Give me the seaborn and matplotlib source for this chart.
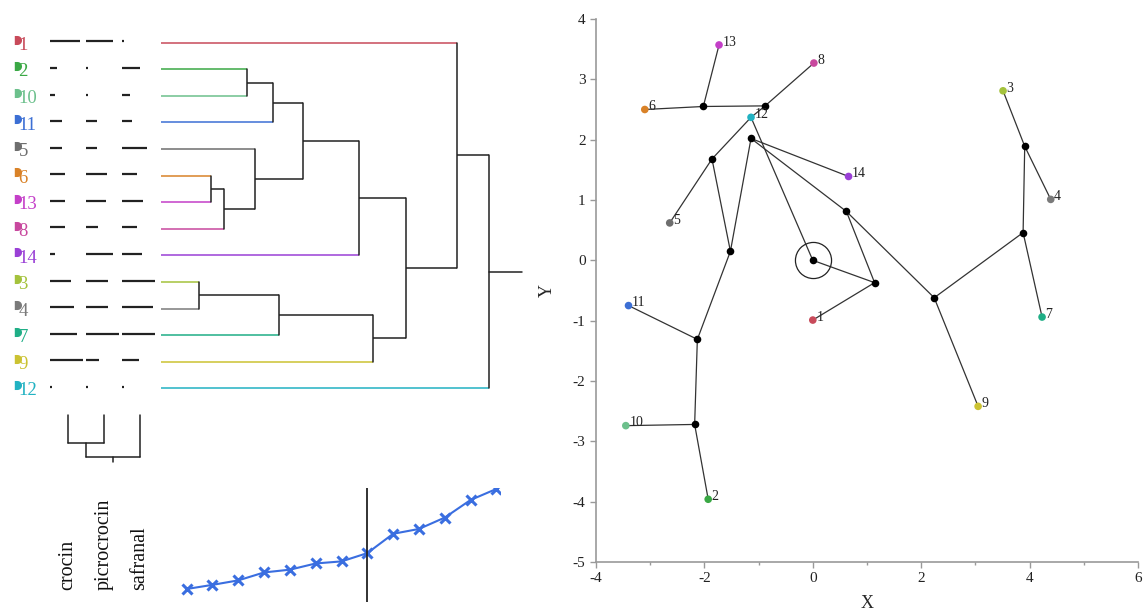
import numpy as np
import pandas as pd
import matplotlib
matplotlib.use("Agg")
import matplotlib.pyplot as plt
import seaborn as sns
from matplotlib.path import Path
from matplotlib.transforms import blended_transform_factory

# samples in dendrogram order, top to bottom
leaf_order = [1, 2, 10, 11, 5, 6, 13, 8, 14, 3, 4, 7, 9, 12]
sample_colors = {
    1: "#c84a5a", 2: "#3aa845", 3: "#a4c23c", 4: "#7a7a7a", 5: "#6e6e6e",
    6: "#d98228", 7: "#1fae86", 8: "#c8489e", 9: "#cbc232", 10: "#6cc08c",
    11: "#3c6fd4", 12: "#22b2c2", 13: "#c43fc8", 14: "#9a40d6",
}

# relative compound levels, same row order as leaf_order (1 = highest)
compounds = ["crocin", "picrocrocin", "safranal"]
crocin = [0.91, 0.21, 0.15, 0.36, 0.36, 0.45, 0.45, 0.45, 0.15, 0.64, 0.73, 0.82, 1.00, 0.05]
picrocrocin = [0.82, 0.06, 0.06, 0.33, 0.33, 0.64, 0.61, 0.36, 0.82, 0.67, 0.67, 1.00, 0.39, 0.05]
safranal = [0.05, 0.55, 0.24, 0.30, 0.76, 0.45, 0.64, 0.45, 0.61, 1.00, 0.94, 1.00, 0.52, 0.05]

# sample clustering: merge k joins left[k] and right[k] into "m{k}"
merge_left = ["3", "6", "m1", "2", "5", "m3", "m0", "m5", "m7", "m6", "m8", "1", "m11"]
merge_right = ["4", "13", "8", "10", "m2", "11", "7", "m4", "14", "9", "m9", "m10", "12"]
merge_height = [0.38, 0.50, 0.63, 0.86, 0.94, 1.12, 1.18, 1.42, 1.98, 2.12, 2.45, 2.96, 3.28]
cut_step = 7

# compound clustering
compound_left = ["crocin", "m0"]
compound_right = ["picrocrocin", "safranal"]
compound_height = [0.66, 1.00]

# 2D map: samples and tree nodes
sample_ids = list(range(1, 15))
sample_x = [0.00, -1.93, 3.51, 4.39, -2.64, -3.10, 4.23, 0.02, 3.05, -3.45, -3.40, -1.14, -1.73, 0.66]
sample_y = [-0.99, -3.96, 2.81, 1.01, 0.62, 2.50, -0.94, 3.27, -2.42, -2.74, -0.75, 2.37, 3.57, 1.39]
node_names = ["A", "B", "C", "D", "E", "F", "O", "G", "H", "I", "J", "K", "L"]
node_x = [-2.02, -0.88, -1.14, -1.86, 0.62, -1.52, 0.00, 1.14, -2.13, -2.18, 3.91, 3.88, 2.24]
node_y = [2.55, 2.56, 2.02, 1.68, 0.81, 0.15, 0.00, -0.37, -1.31, -2.72, 1.89, 0.46, -0.62]
edges = [
    ("6", "A"), ("A", "13"), ("A", "B"), ("B", "8"), ("B", "12"), ("12", "D"),
    ("12", "O"), ("D", "5"), ("D", "F"), ("C", "F"), ("C", "14"), ("C", "E"),
    ("E", "G"), ("E", "L"), ("O", "G"), ("G", "1"), ("F", "H"), ("H", "11"),
    ("H", "I"), ("I", "10"), ("I", "2"), ("L", "K"), ("L", "9"), ("K", "J"),
    ("J", "3"), ("J", "4"), ("K", "7"),
]

sns.set_style("white")
plt.rcParams["font.family"] = ["Liberation Serif", "DejaVu Serif"]
plt.rcParams["axes.unicode_minus"] = False

W, H = 1145, 610
fig = plt.figure(figsize=(W / 100, H / 100), dpi=100)


def px_axes(x0, y0, x1, y1):
    """axes from pixel box (top-left origin)"""
    return fig.add_axes([x0 / W, (H - y1) / H, (x1 - x0) / W, (y1 - y0) / H])


def tree_layout(leaves, left, right, heights, pos):
    coord = {str(k): pos[i] for i, k in enumerate(leaves)}
    level = {str(k): 0.0 for k in leaves}
    segs = []
    for k, (a, b, h) in enumerate(zip(left, right, heights)):
        for c in (a, b):
            segs.append(("h", c, coord[c], level[c], h))
        segs.append(("v", None, h, coord[a], coord[b]))
        coord[f"m{k}"] = (coord[a] + coord[b]) / 2
        level[f"m{k}"] = h
    return segs, coord


leaf_keys = [str(s) for s in leaf_order]
rows = np.arange(len(leaf_order))

# --- sample dendrogram ---
ax_d = px_axes(161, 29.4, 530, 401.6)
segs, coord = tree_layout(leaf_order, merge_left, merge_right, merge_height, rows)
for kind, child, c, a, b in segs:
    if kind == "h":
        col = sample_colors[int(child)] if child in leaf_keys else "#222222"
        ax_d.plot([a, b], [c, c], color=col, lw=1.1, solid_capstyle="butt")
    else:
        ax_d.plot([c, c], [a, b], color="#222222", lw=1.1)
root = f"m{len(merge_height) - 1}"
ax_d.plot([merge_height[-1], merge_height[-1] + 0.33], [coord[root]] * 2, color="#222222", lw=1.1)
ax_d.set_xlim(0, 3.69)
ax_d.set_ylim(13.5, -0.5)
ax_d.axis("off")

# --- sample labels ---
d_theta = np.linspace(np.pi / 2, -np.pi / 2, 24)
d_verts = [(-0.6, 1.0)] + list(zip(np.cos(d_theta), np.sin(d_theta))) + [(-0.6, -1.0), (-0.6, 1.0)]
d_marker = Path(d_verts)
ax_l = px_axes(0, 29.4, 50, 401.6)
for r, s in zip(rows, leaf_order):
    ax_l.plot(17, r - 0.12, marker=d_marker, ms=6.5, color=sample_colors[s], mew=0)
    ax_l.text(18.5, r + 0.1, str(s), color=sample_colors[s], fontsize=13.5, ha="left", va="center")
ax_l.set_xlim(0, 50)
ax_l.set_ylim(13.5, -0.5)
ax_l.axis("off")

# --- compound profiles ---
ax_p = px_axes(50, 29.4, 158, 401.6)
profile = pd.DataFrame({"crocin": crocin, "picrocrocin": picrocrocin, "safranal": safranal})
for j, name in enumerate(compounds):
    for r, v in zip(rows, profile[name]):
        ax_p.plot([j, j + v * 0.92], [r - 0.05, r - 0.05], color="#222222", lw=1.6, solid_capstyle="butt")
ax_p.set_xlim(0, 3)
ax_p.set_ylim(13.5, -0.5)
ax_p.axis("off")

# --- compound dendrogram ---
ax_c = px_axes(50, 412, 158, 466)
cpos = np.arange(len(compounds)) + 0.5
csegs, ccoord = tree_layout(compounds, compound_left, compound_right, compound_height, cpos)
for kind, child, c, a, b in csegs:
    if kind == "h":
        ax_c.plot([c, c], [a, b], color="#222222", lw=1.1)
    else:
        ax_c.plot([a, b], [c, c], color="#222222", lw=1.1)
croot = f"m{len(compound_height) - 1}"
ax_c.plot([ccoord[croot]] * 2, [compound_height[-1], compound_height[-1] + 0.13], color="#222222", lw=1.1)
ax_c.set_xlim(0, 3)
ax_c.set_ylim(1.223, -0.072)
ax_c.axis("off")
tr = blended_transform_factory(ax_c.transData, fig.transFigure)
for x, name in zip(cpos, compounds):
    fig.text(x, 20 / H, name, transform=tr, rotation=90, ha="center", va="bottom", fontsize=14.5, color="#111111")

# --- fusion level curve ---
ax_f = px_axes(175, 488, 500, 602)
fusion = pd.DataFrame({"step": np.arange(len(merge_height)), "level": sorted(merge_height)})
sns.lineplot(data=fusion, x="step", y="level", ax=ax_f, color="#3a6ee0", lw=1.5,
             marker="x", markersize=7, markeredgewidth=2.2, markeredgecolor="#3a6ee0")
ax_f.axvline(cut_step, color="#222222", lw=1.3)
ax_f.set_xlim(-0.453, 12.14)
ax_f.set_ylim(0.003, 3.307)
ax_f.axis("off")

# --- 2D map ---
ax = px_axes(596, 19, 1138, 562)
pts = {str(i): (x, y) for i, x, y in zip(sample_ids, sample_x, sample_y)}
pts.update({n: (x, y) for n, x, y in zip(node_names, node_x, node_y)})
for a, b in edges:
    ax.plot([pts[a][0], pts[b][0]], [pts[a][1], pts[b][1]], color="#333333", lw=0.9, zorder=1)
ax.plot(0, 0, marker="o", ms=26, mfc="none", mec="#222222", mew=0.9, zorder=1)
nodes = pd.DataFrame({"x": node_x, "y": node_y})
sns.scatterplot(data=nodes, x="x", y="y", color="black", s=30, linewidth=0, ax=ax, zorder=3)
samples = pd.DataFrame({"x": sample_x, "y": sample_y, "id": [str(i) for i in sample_ids]})
sns.scatterplot(data=samples, x="x", y="y", hue="id", palette={str(k): v for k, v in sample_colors.items()},
                s=30, linewidth=0, legend=False, ax=ax, zorder=3)
for i, x, y in zip(sample_ids, sample_x, sample_y):
    ax.annotate(str(i), (x, y), xytext=(2.5, 2.0), textcoords="offset points",
                fontsize=10, color="#222222", ha="left", va="center")
ax.set_xlim(-4, 6)
ax.set_ylim(-5, 4)
ax.set_xticks(range(-4, 7, 2))
ax.set_xticks(range(-3, 6, 2), minor=True)
ax.set_yticks(range(-5, 5))
for side in ("top", "right"):
    ax.spines[side].set_visible(False)
for side in ("left", "bottom"):
    ax.spines[side].set_color("#999999")
    ax.spines[side].set_linewidth(1.2)
ax.tick_params(axis="both", which="major", direction="out", length=4, width=1, color="#999999",
               labelsize=11, labelcolor="#222222", left=True, bottom=True)
ax.tick_params(axis="x", which="minor", direction="out", length=2.5, width=1, color="#999999", bottom=True)
ax.set_xlabel("X", fontsize=13, labelpad=7)
ax.set_ylabel("Y", fontsize=13, labelpad=12)

fig.savefig("out.png", dpi=100)
